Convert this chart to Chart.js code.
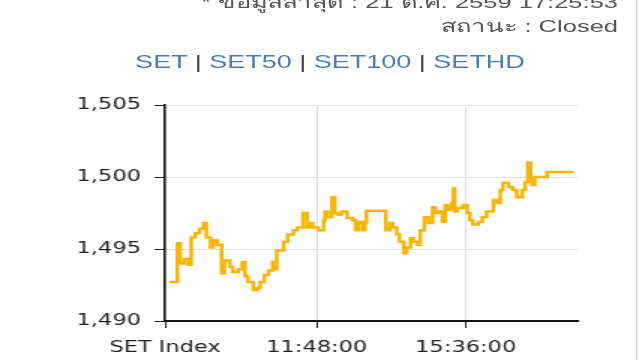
<!DOCTYPE html>
<html>
<head>
<meta charset="utf-8">
<script src="https://cdn.jsdelivr.net/npm/chart.js@4"></script>
<style>
  html, body { margin: 0; padding: 0; background: #fff; overflow: hidden; }
  /* the reference is a narrow widget stretched sideways, so draw at 427px and stretch */
  #wrap { position: absolute; left: 0; top: 0; width: 427px; height: 360px; transform: scaleX(1.5); transform-origin: 0 0; }
  #info { position: absolute; right: 15px; top: -9px; text-align: right; font: 17px "Liberation Sans", Arial, sans-serif; line-height: 24px; color: #555; white-space: nowrap; }
  #links { position: absolute; left: 0; width: 440px; top: 50px; text-align: center; font: 18px "Liberation Sans", Arial, sans-serif; line-height: 24px; color: #444; white-space: nowrap; }
  #links span { color: #4a7eb5; }
  #edge { position: absolute; left: 424px; top: 0; width: 1px; height: 360px; background: #d8d8d8; }
  canvas { position: absolute; left: 0; top: 0; }
</style>
</head>
<body>
<div id="wrap">
  <div id="info">* ข้อมูลล่าสุด : 21 ต.ค. 2559 17:25:53<br>สถานะ : Closed</div>
  <div id="links"><span>SET</span> | <span>SET50</span> | <span>SET100</span> | <span>SETHD</span></div>
  <div id="edge"></div>
  <canvas id="setChart" width="427" height="360"></canvas>
</div>
<script>
// minutes of trading since the open, and the SET index at that minute
const minutes = [3, 8, 9, 11, 14, 17, 19, 22, 25, 28, 30, 33, 35, 38, 41, 43, 47, 49, 53, 56,
  58, 60, 64, 67, 69, 72, 75, 78, 80, 81, 86, 89, 93, 96, 100, 103, 105, 107, 111, 115,
  116, 118, 121, 123, 125, 128, 132, 136, 138, 140, 143, 145, 146, 160, 163, 165, 168, 170, 173, 175,
  178, 180, 183, 185, 188, 191, 194, 196, 198, 201, 203, 205, 208, 209, 210, 212, 216, 219, 221, 223,
  227, 230, 233, 238, 241, 243, 245, 249, 252, 255, 259, 261, 263, 265, 266, 268, 277, 296];
const values = [1492.7, 1492.7, 1495.4, 1494.0, 1494.3, 1493.9, 1495.8, 1496.1, 1496.4, 1496.8,
  1495.8, 1495.1, 1495.6, 1495.3, 1493.3, 1494.2, 1493.75, 1493.4, 1493.6, 1494.1,
  1493.1, 1492.7, 1492.15, 1492.3, 1492.7, 1493.2, 1493.5, 1494.1, 1493.6, 1494.9,
  1495.5, 1496.0, 1496.3, 1496.5, 1497.5, 1496.5, 1496.8, 1496.5, 1496.3, 1497.0,
  1497.6, 1497.2, 1498.6, 1497.5, 1497.4, 1497.6, 1497.15, 1497.0, 1496.3, 1496.9,
  1496.3, 1496.8, 1497.65, 1496.3, 1496.8, 1496.5, 1496.0, 1495.5, 1494.7, 1495.1,
  1495.75, 1495.5, 1495.3, 1496.3, 1497.2, 1496.8, 1497.9, 1497.5, 1497.6, 1496.9,
  1498.05, 1497.7, 1498.2, 1499.2, 1497.6, 1497.85, 1498.05, 1497.5, 1497.0, 1496.7,
  1496.9, 1497.2, 1497.6, 1498.4, 1498.2, 1499.1, 1499.6, 1499.3, 1499.1, 1498.6,
  1499.1, 1499.65, 1501.0, 1499.8, 1499.45, 1500.0, 1500.35, 1500.35];

const tickMinutes = [0, 110, 218];
const tickLabels = ['SET Index', '11:48:00', '15:36:00'];
const yTicks = [1490, 1495, 1500, 1505];

const points = minutes.map((m, i) => ({ x: m, y: values[i] }));
const tickFont = { family: 'DejaVu Sans', size: 15 };

new Chart(document.getElementById('setChart'), {
  type: 'line',
  data: {
    datasets: [{
      label: 'SET',
      data: points,
      borderColor: '#f5b50a',
      borderWidth: 2.5,
      pointRadius: 0,
      stepped: true,
      fill: false
    }]
  },
  options: {
    responsive: false,
    animation: false,
    layout: { padding: { left: 0, top: 105, right: 42, bottom: 0 } },
    plugins: { legend: { display: false }, tooltip: { enabled: false } },
    scales: {
      x: {
        type: 'linear',
        min: 0,
        max: 299,
        afterBuildTicks: (axis) => { axis.ticks = tickMinutes.map(v => ({ value: v })); },
        afterFit: (axis) => { axis.height = 39; },
        ticks: {
          autoSkip: false,
          maxRotation: 0,
          padding: 11,
          color: '#222',
          font: tickFont,
          callback: (v) => tickLabels[tickMinutes.indexOf(v)]
        },
        grid: { color: '#dddddd', tickColor: '#222', tickLength: 7 },
        border: { color: '#111', width: 2 }
      },
      y: {
        min: 1490,
        max: 1505,
        afterBuildTicks: (axis) => { axis.ticks = yTicks.map(v => ({ value: v })); },
        afterFit: (axis) => { axis.width = 110; },
        ticks: {
          padding: 9,
          color: '#222',
          font: tickFont,
          callback: (v) => v.toLocaleString('en-US')
        },
        grid: { color: '#dddddd', tickColor: '#222', tickLength: 7 },
        border: { color: '#111', width: 1.5 }
      }
    }
  }
});
</script>
</body>
</html>
